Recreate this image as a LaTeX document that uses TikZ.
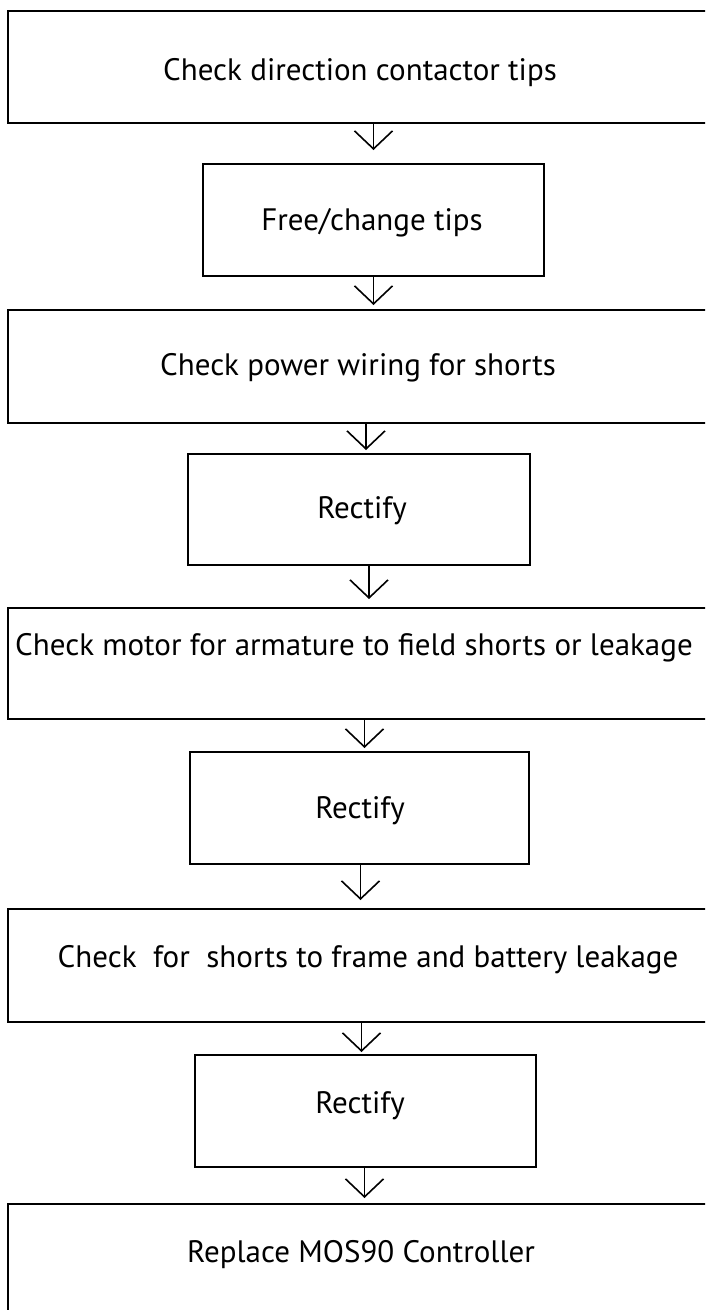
\documentclass[tikz,border=0pt]{standalone}
\usepackage{fontspec}
\setmainfont{PT Sans}
\usetikzlibrary{arrows.meta}
\tikzset{
  box/.style={draw, line width=2pt, rectangle, inner sep=0pt, anchor=north west},
  lbl/.style={anchor=base, inner sep=0pt, font=\fontsize{31}{36}\selectfont},
  arr/.style={line width=1.6pt, -{Straight Barb[length=18pt, width=38pt, line width=1.6pt]}}
}
\begin{document}
\begin{tikzpicture}[x=1pt, y=-1pt]
\useasboundingbox (0,0) rectangle (705,1310);
\clip (0,0) rectangle (705,1310);
% boxes
\node[box, minimum width=710pt, minimum height=112pt] (b1) at (7,10) {};
\node[box, minimum width=341pt, minimum height=112pt] (b2) at (202,163) {};
\node[box, minimum width=710pt, minimum height=113pt] (b3) at (7,309) {};
\node[box, minimum width=342pt, minimum height=111pt] (b4) at (187,453) {};
\node[box, minimum width=710pt, minimum height=111pt] (b5) at (7,607) {};
\node[box, minimum width=339pt, minimum height=112pt] (b6) at (189,751) {};
\node[box, minimum width=710pt, minimum height=113pt] (b7) at (7,908) {};
\node[box, minimum width=341pt, minimum height=112pt] (b8) at (194,1054) {};
\node[box, minimum width=710pt, minimum height=130pt] (b9) at (7,1203) {};
% labels
\node[lbl] (t1) at (360,80) {Check direction contactor tips};
\node[lbl] (t2) at (372,230) {Free/change tips};
\node[lbl] (t3) at (358,375) {Check power wiring for shorts};
\node[lbl] (t4) at (362,518) {Rectify};
\node[lbl] (t5) at (354,655) {Check motor for armature to field shorts or leakage};
\node[lbl] (t6) at (360,818) {Rectify};
\node[lbl] (t7) at (368,967) {Check\ \ for\ \ shorts to frame and battery leakage};
\node[lbl] (t8) at (360,1113) {Rectify};
\node[lbl] (t9) at (361,1262) {Replace MOS90 Controller};
% arrows
\draw[arr] (b1.south -| b2.north) -- ([yshift=13pt]b2.north);
\draw[arr] (b2.south) -- ([yshift=4pt]b2.south |- b3.north);
\draw[arr] ([xshift=7pt]b3.south -| b4.north) -- ([xshift=7pt,yshift=3pt]b4.north);
\draw[arr] ([xshift=10pt]b4.south) -- ([xshift=10pt,yshift=8pt]b4.south |- b5.north);
\draw[arr] ([xshift=5pt]b5.south -| b6.north) -- ([xshift=5pt,yshift=3pt]b6.north);
\draw[arr] ([xshift=1pt]b6.south) -- ([xshift=1pt,yshift=8pt]b6.south |- b7.north);
\draw[arr] ([xshift=-4pt]b7.south -| b8.north) -- ([xshift=-4pt,yshift=2pt]b8.north);
\draw[arr] ([xshift=-1pt]b8.south) -- ([xshift=-1pt,yshift=5pt]b8.south |- b9.north);
\end{tikzpicture}
\end{document}
